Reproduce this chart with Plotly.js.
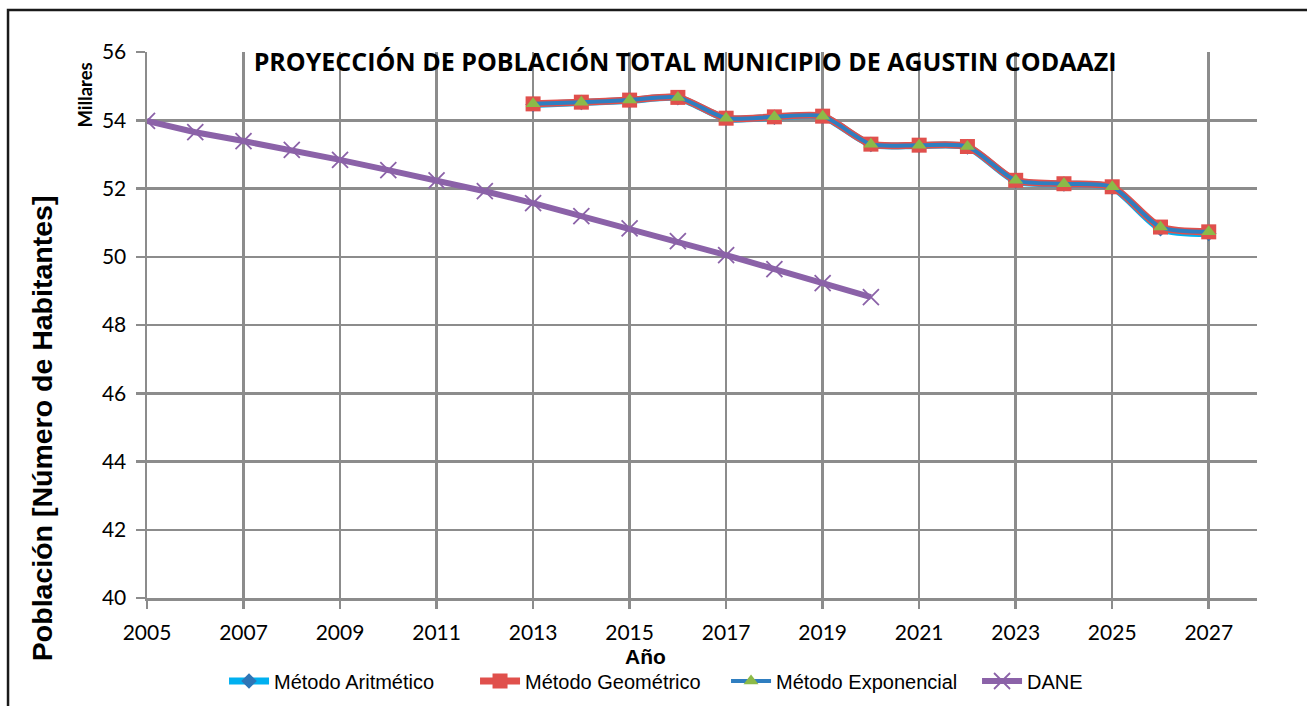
<!DOCTYPE html>
<html>
<head>
<meta charset="utf-8">
<script src="https://cdn.plot.ly/plotly-3.0.1.min.js"></script>
<style>html,body{margin:0;padding:0;background:#fff;}#chart{width:1307px;height:706px;}</style>
</head>
<body>
<div id="chart"></div>
<script>
// ---- Data (thousands of inhabitants) ----
var yearsDane = [2005,2006,2007,2008,2009,2010,2011,2012,2013,2014,2015,2016,2017,2018,2019,2020];
var dane = [53.98,53.65,53.39,53.13,52.84,52.54,52.24,51.92,51.57,51.19,50.83,50.46,50.05,49.64,49.23,48.82];

var yearsMet = [2013,2014,2015,2016,2017,2018,2019,2020,2021,2022,2023,2024,2025,2026,2027];
var aritmetico = [54.46,54.52,54.58,54.66,54.05,54.09,54.11,53.29,53.26,53.22,52.22,52.13,52.03,50.82,50.68];
var geometrico = [54.48,54.53,54.59,54.67,54.06,54.10,54.12,53.30,53.27,53.23,52.24,52.14,52.05,50.87,50.73];
var exponencial = [54.48,54.53,54.59,54.67,54.06,54.10,54.12,53.30,53.27,53.23,52.24,52.14,52.05,50.87,50.73];

var xTicks = [2005,2007,2009,2011,2013,2015,2017,2019,2021,2023,2025,2027];
var yTicks = [40,42,44,46,48,50,52,54,56];

var seriesNames = ['Método Aritmético','Método Geométrico','Método Exponencial','DANE'];
var titleText = 'PROYECCIÓN DE POBLACIÓN TOTAL MUNICIPIO DE AGUSTIN CODAAZI';

// ---- Traces ----
var traces = [
  {x: yearsMet, y: aritmetico, name: seriesNames[0], type: 'scatter', mode: 'lines+markers',
   line: {color: '#00B0F0', width: 7, shape: 'spline', smoothing: 0.7},
   marker: {symbol: 'diamond', size: 12, color: '#2E75B6'}},
  {x: yearsMet, y: geometrico, name: seriesNames[1], type: 'scatter', mode: 'lines+markers',
   line: {color: '#E0504C', width: 7, shape: 'spline', smoothing: 0.7},
   marker: {symbol: 'square', size: 15, color: '#E0504C'}},
  {x: yearsMet, y: exponencial, name: seriesNames[2], type: 'scatter', mode: 'lines+markers',
   line: {color: '#2F7EC0', width: 4, shape: 'spline', smoothing: 0.7},
   marker: {symbol: 'triangle-up', size: 13, color: '#8CBA48'}},
  {x: yearsDane, y: dane, name: seriesNames[3], type: 'scatter', mode: 'lines+markers',
   line: {color: '#8B62A8', width: 6},
   marker: {symbol: 'x-thin-open', size: 16, color: '#8B62A8', line: {color: '#8B62A8', width: 1.8}}}
];

var gridC = '#8c8c8c';
var layout = {
  width: 1307, height: 706, autosize: false,
  margin: {l: 147, r: 50, t: 52, b: 108, autoexpand: false},
  paper_bgcolor: '#ffffff', plot_bgcolor: '#ffffff',
  showlegend: true,
  title: {text: '<b>' + titleText + '</b>', x: 0.4847, xref: 'paper', xanchor: 'center',
          y: 0.982, yref: 'paper', yanchor: 'middle',
          font: {family: '"Open Sans", Lato, sans-serif', size: 25, color: '#000'}},
  xaxis: {range: [2005, 2028], tickvals: xTicks, ticktext: xTicks.map(String),
          showgrid: true, gridcolor: gridC, gridwidth: 2.5,
          showline: true, linecolor: gridC, linewidth: 2.5,
          ticks: 'outside', ticklen: 8, tickwidth: 2.5, tickcolor: gridC,
          ticklabelstandoff: 6,
          zeroline: false, fixedrange: true,
          tickfont: {family: 'Lato, "Open Sans", sans-serif', size: 21, color: '#000'}},
  yaxis: {range: [40, 56], tickvals: yTicks, ticktext: yTicks.map(String),
          showgrid: true, gridcolor: gridC, gridwidth: 2.5,
          showline: true, linecolor: gridC, linewidth: 2.5,
          ticks: 'outside', ticklen: 9, tickwidth: 2.5, tickcolor: gridC,
          ticklabelstandoff: 5,
          zeroline: false, fixedrange: true,
          tickfont: {family: 'Lato, "Open Sans", sans-serif', size: 21, color: '#000'}},
  legend: {orientation: 'h', x: 0.0694, xanchor: 'left', y: -0.152, yanchor: 'middle',
           font: {family: 'Arial, "Liberation Sans", sans-serif', size: 20, color: '#000'},
           bgcolor: 'rgba(0,0,0,0)', itemwidth: 40, traceorder: 'normal',
           entrywidth: 196, entrywidthmode: 'pixels'},
  annotations: [
    {text: '<b>Millares</b>', xref: 'paper', yref: 'paper', x: -0.0559, y: 0.922,
     textangle: -90, showarrow: false, xanchor: 'center', yanchor: 'middle',
     font: {family: 'Lato, "Open Sans", sans-serif', size: 18.5, color: '#000'}},
    {text: '<b>Población [Número de Habitantes]</b>', xref: 'paper', yref: 'paper', x: -0.0946, y: 0.311,
     textangle: -90, showarrow: false, xanchor: 'center', yanchor: 'middle',
     font: {family: 'Arial, "Liberation Sans", sans-serif', size: 28.5, color: '#000'}},
    {text: '<b>Año</b>', xref: 'paper', yref: 'paper', x: 0.4495, y: -0.108,
     showarrow: false, xanchor: 'center', yanchor: 'middle',
     font: {family: 'Arial, "Liberation Sans", sans-serif', size: 21, color: '#000'}}
  ],
  shapes: [
    {type: 'rect', xref: 'paper', yref: 'paper', x0: -0.1252, x1: 1.08, y0: -0.25, y1: 1.0769,
     line: {color: '#1a1a1a', width: 2.5}, fillcolor: 'rgba(0,0,0,0)', layer: 'above'}
  ]
};

Plotly.newPlot('chart', traces, layout, {displayModeBar: false, staticPlot: true});
</script>
</body>
</html>
